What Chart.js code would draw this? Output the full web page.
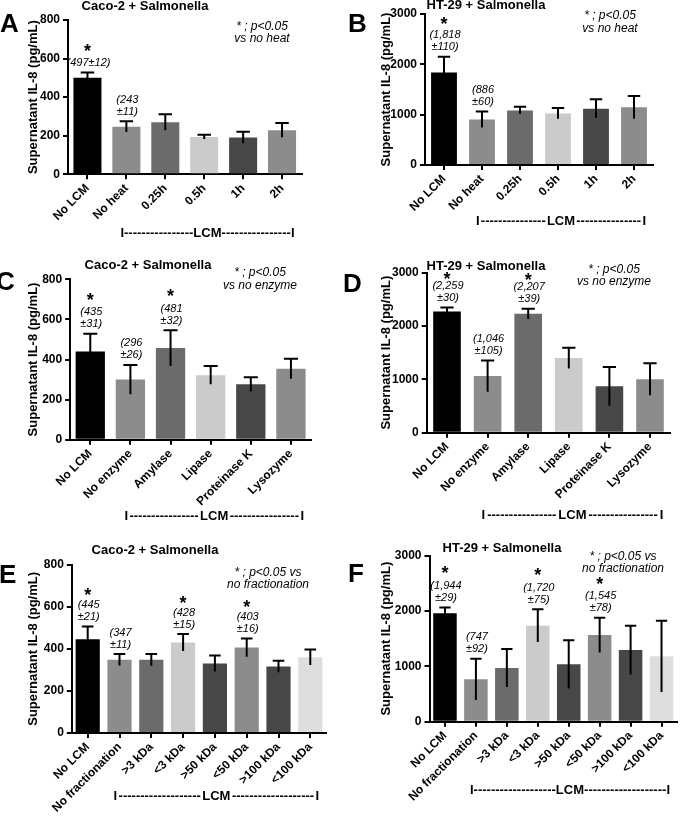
<!DOCTYPE html>
<html>
<head>
<meta charset="utf-8">
<script src="https://cdn.jsdelivr.net/npm/chart.js@4.4.1/dist/chart.umd.min.js"></script>
<style>
  body { margin: 0; background: #fff; }
  #figure { position: relative; width: 680px; height: 820px; overflow: hidden; }
  #figure canvas { position: absolute; }
</style>
</head>
<body>
<div id="figure">
  <canvas id="panelA" width="340" height="255" style="left:0;top:0"></canvas>
  <canvas id="panelB" width="340" height="255" style="left:340px;top:0"></canvas>
  <canvas id="panelC" width="340" height="285" style="left:0;top:255px"></canvas>
  <canvas id="panelD" width="340" height="285" style="left:340px;top:255px"></canvas>
  <canvas id="panelE" width="340" height="280" style="left:0;top:540px"></canvas>
  <canvas id="panelF" width="340" height="280" style="left:340px;top:540px"></canvas>
</div>
<script>
// categories
const heatCats = ["No LCM", "No heat", "0.25h", "0.5h", "1h", "2h"];
const enzymeCats = ["No LCM", "No enzyme", "Amylase", "Lipase", "Proteinase K", "Lysozyme"];
const fractionCats = ["No LCM", "No fractionation", ">3 kDa", "<3 kDa", ">50 kDa", "<50 kDa", ">100 kDa", "<100 kDa"];

// IL-8 means and error bars (pg/mL)
const caco2Heat = [500, 247, 270, 194, 191, 229];
const caco2HeatErr = [28, 28, 41, 11, 30, 37];
const ht29Heat = [1840, 905, 1085, 1025, 1118, 1146];
const ht29HeatErr = [312, 160, 73, 106, 186, 225];
const caco2Enzyme = [440, 300, 457, 322, 276, 354];
const caco2EnzymeErr = [88, 73, 89, 45, 35, 50];
const ht29Enzyme = [2272, 1063, 2228, 1400, 869, 1000];
const ht29EnzymeErr = [76, 293, 94, 194, 362, 300];
const caco2Fraction = [446, 348, 348, 430, 330, 406, 316, 360];
const caco2FractionErr = [60, 27, 28, 40, 38, 43, 27, 37];
const ht29Fraction = [1958, 765, 970, 1735, 1036, 1566, 1295, 1181];
const ht29FractionErr = [108, 374, 343, 295, 434, 314, 440, 644];

// value labels and significance stars above the bars
const caco2HeatNotes = ["(497\u00b112)", "(243\n\u00b111)", "", "", "", ""];
const caco2HeatStars = [1, 0, 0, 0, 0, 0];
const ht29HeatNotes = ["(1,818\n\u00b1110)", "(886\n\u00b160)", "", "", "", ""];
const ht29HeatStars = [1, 0, 0, 0, 0, 0];
const caco2EnzymeNotes = ["(435\n\u00b131)", "(296\n\u00b126)", "(481\n\u00b132)", "", "", ""];
const caco2EnzymeStars = [1, 0, 1, 0, 0, 0];
const ht29EnzymeNotes = ["(2,259\n\u00b130)", "(1,046\n\u00b1105)", "(2,207\n\u00b139)", "", "", ""];
const ht29EnzymeStars = [1, 0, 1, 0, 0, 0];
const caco2FractionNotes = ["(445\n\u00b121)", "(347\n\u00b111)", "", "(428\n\u00b115)", "", "(403\n\u00b116)", "", ""];
const caco2FractionStars = [1, 0, 0, 1, 0, 1, 0, 0];
const ht29FractionNotes = ["(1,944\n\u00b129)", "(747\n\u00b192)", "", "(1,720\n\u00b175)", "", "(1,545\n\u00b178)", "", ""];
const ht29FractionStars = [1, 0, 0, 1, 0, 1, 0, 0];

const FONT = '"Liberation Sans", Arial, Helvetica, sans-serif';
Chart.defaults.font.family = FONT;
Chart.defaults.color = "#000";

const greys6 = ["#000000", "#8c8c8c", "#6b6b6b", "#cbcbcb", "#474747", "#8c8c8c"];
const greys8 = ["#000000", "#8c8c8c", "#6b6b6b", "#cbcbcb", "#474747", "#8c8c8c", "#474747", "#dedede"];

// draws error bars, value notes, titles, panel letter and the LCM bracket
function decor(p) {
  return {
    id: "decor",
    afterDatasetsDraw(chart) {
      const ctx = chart.ctx;
      const y = chart.scales.y;
      const bars = chart.getDatasetMeta(0).data;
      ctx.save();
      ctx.strokeStyle = "#000";
      ctx.fillStyle = "#000";
      ctx.lineWidth = 2;
      bars.forEach((bar, i) => {
        const m = p.mean[i], e = p.err[i];
        const yTop = y.getPixelForValue(m + e);
        const yLow = y.getPixelForValue(m - e);
        const half = bar.width * 0.24;
        ctx.beginPath();
        ctx.moveTo(bar.x, yLow);
        ctx.lineTo(bar.x, yTop);
        ctx.moveTo(bar.x - half, yTop);
        ctx.lineTo(bar.x + half, yTop);
        ctx.stroke();

        const lines = p.notes[i] ? p.notes[i].split("\n") : [];
        ctx.font = "italic 11px " + FONT;
        ctx.textAlign = "center";
        ctx.textBaseline = "middle";
        let cy = yTop - 9.5;
        for (let k = lines.length - 1; k >= 0; k--) {
          ctx.fillText(lines[k], bar.x + 1, cy);
          cy -= 12;
        }
        if (p.stars[i]) {
          const top = lines.length ? cy + 12 : yTop;
          const sy = top - p.starGap;
          ctx.font = "bold 18px " + FONT;
          ctx.textBaseline = "alphabetic";
          ctx.fillText("*", bar.x, sy + 10);
        }
      });
      ctx.restore();
    },
    afterDraw(chart) {
      const ctx = chart.ctx;
      const area = chart.chartArea;
      ctx.save();
      ctx.fillStyle = "#000";

      ctx.font = "bold 13px " + FONT;
      ctx.textAlign = "center";
      ctx.textBaseline = "middle";
      ctx.fillText(p.title, p.titleX - p.ox, p.titleY - p.oy);

      ctx.font = "bold 26px " + FONT;
      ctx.textAlign = "left";
      ctx.textBaseline = "alphabetic";
      ctx.fillText(p.letter, p.letterX - p.ox, p.letterY - p.oy);

      ctx.font = "italic 12px " + FONT;
      ctx.textAlign = "center";
      ctx.textBaseline = "middle";
      ctx.fillText(p.sig[0], p.sigX - p.ox, p.sigY[0] - p.oy);
      ctx.fillText(p.sig[1], p.sigX - p.ox, p.sigY[1] - p.oy);

      // I-------LCM-------I
      const x1 = chart.scales.x.getPixelForValue(1) - 6;
      const x2 = area.right - 7;
      const yb = area.bottom + p.lcmDrop;
      ctx.font = "bold 13px " + FONT;
      const wI = ctx.measureText("I").width;
      const wL = ctx.measureText("LCM").width;
      const wD = ctx.measureText("-").width;
      const mid = (x1 + x2) / 2;
      ctx.textAlign = "left";
      ctx.fillText("I", x1, yb);
      ctx.textAlign = "right";
      ctx.fillText("I", x2, yb);
      ctx.textAlign = "center";
      ctx.fillText("LCM", mid, yb);
      const gap = mid - wL / 2 - (x1 + wI);
      const dashes = "-".repeat(Math.max(0, Math.floor(gap / wD)));
      ctx.fillText(dashes, (x1 + wI + mid - wL / 2) / 2, yb);
      ctx.fillText(dashes, (mid + wL / 2 + x2 - wI) / 2, yb);
      ctx.restore();
    }
  };
}

function makePanel(id, p) {
  const canvas = document.getElementById(id);
  const W = canvas.width, H = canvas.height;
  const tickGrid = {
    display: true,
    drawOnChartArea: false,
    drawTicks: true,
    tickLength: 5,
    color: "#000",
    lineWidth: 2,
    offset: false
  };
  return new Chart(canvas, {
    type: "bar",
    data: {
      labels: p.cats,
      datasets: [{
        data: p.mean,
        backgroundColor: p.colors,
        borderWidth: 0,
        barPercentage: p.barPct,
        categoryPercentage: 1
      }]
    },
    options: {
      responsive: false,
      animation: false,
      devicePixelRatio: 1,
      layout: {
        padding: { left: 0, top: p.T - p.oy, right: p.ox + W - p.R, bottom: 0 }
      },
      plugins: {
        legend: { display: false },
        tooltip: { enabled: false }
      },
      scales: {
        x: {
          offset: true,
          z: 1,
          grid: tickGrid,
          border: { color: "#000", width: 2 },
          ticks: {
            autoSkip: false,
            minRotation: 45,
            maxRotation: 45,
            padding: 2,
            color: "#000",
            font: { size: 12, weight: "bold" }
          },
          afterFit: (s) => { s.height = p.oy + H - p.B; }
        },
        y: {
          min: 0,
          max: p.max,
          z: 1,
          grid: tickGrid,
          border: { color: "#000", width: 2 },
          ticks: {
            stepSize: p.step,
            padding: 3,
            color: "#000",
            font: { size: 12, weight: "bold" },
            callback: (v) => String(v)
          },
          title: {
            display: true,
            text: "Supernatant IL-8 (pg/mL)",
            color: "#000",
            font: { size: 13, weight: "bold" },
            padding: { top: p.yTitleX - p.ox - 7.8, bottom: 0 }
          },
          afterFit: (s) => { s.width = p.L - p.ox; }
        }
      }
    },
    plugins: [decor(p)]
  });
}

makePanel("panelA", {
  cats: heatCats, mean: caco2Heat, err: caco2HeatErr, notes: caco2HeatNotes, stars: caco2HeatStars,
  colors: greys6, barPct: 0.72, max: 800, step: 200,
  ox: 0, oy: 0, L: 68, R: 301.5, T: 20, B: 174.3, yTitleX: 33,
  title: "Caco-2 + Salmonella", titleX: 145, titleY: 6,
  letter: "A", letterX: 0, letterY: 32,
  sig: ["* ; p<0.05", "vs no heat"], sigX: 262, sigY: [27, 39],
  lcmDrop: 58.7, starGap: 15.5
});

makePanel("panelB", {
  cats: heatCats, mean: ht29Heat, err: ht29HeatErr, notes: ht29HeatNotes, stars: ht29HeatStars,
  colors: greys6, barPct: 0.68, max: 3000, step: 1000,
  ox: 340, oy: 0, L: 425, R: 653, T: 14, B: 165, yTitleX: 386,
  title: "HT-29 + Salmonella", titleX: 486, titleY: 5,
  letter: "B", letterX: 348, letterY: 32,
  sig: ["* ; p<0.05", "vs no heat"], sigX: 610, sigY: [16, 28.3],
  lcmDrop: 56.7, starGap: 15.5
});

makePanel("panelC", {
  cats: enzymeCats, mean: caco2Enzyme, err: caco2EnzymeErr, notes: caco2EnzymeNotes, stars: caco2EnzymeStars,
  colors: greys6, barPct: 0.73, max: 800, step: 200,
  ox: 0, oy: 255, L: 70.2, R: 311, T: 279.3, B: 439.7, yTitleX: 33,
  title: "Caco-2 + Salmonella", titleX: 148, titleY: 265,
  letter: "C", letterX: -4, letterY: 290,
  sig: ["* ; p<0.05", "vs no enzyme"], sigX: 260, sigY: [272.7, 286],
  lcmDrop: 77, starGap: 16.5
});

makePanel("panelD", {
  cats: enzymeCats, mean: ht29Enzyme, err: ht29EnzymeErr, notes: ht29EnzymeNotes, stars: ht29EnzymeStars,
  colors: greys6, barPct: 0.68, max: 3000, step: 1000,
  ox: 340, oy: 255, L: 426.7, R: 670.3, T: 272.7, B: 432.7, yTitleX: 386.7,
  title: "HT-29 + Salmonella", titleX: 486, titleY: 266.7,
  letter: "D", letterX: 343, letterY: 292,
  sig: ["* ; p<0.05", "vs no enzyme"], sigX: 614, sigY: [269.5, 281.5],
  lcmDrop: 82.3, starGap: 11
});

makePanel("panelE", {
  cats: fractionCats, mean: caco2Fraction, err: caco2FractionErr, notes: caco2FractionNotes, stars: caco2FractionStars,
  colors: greys8, barPct: 0.76, max: 800, step: 200,
  ox: 0, oy: 540, L: 71.8, R: 326.2, T: 564.7, B: 733, yTitleX: 33,
  title: "Caco-2 + Salmonella", titleX: 155, titleY: 550,
  letter: "E", letterX: -1, letterY: 583,
  sig: ["* ; p<0.05 vs", "no fractionation"], sigX: 268, sigY: [573, 584.5],
  lcmDrop: 63.7, starGap: 14
});

makePanel("panelF", {
  cats: fractionCats, mean: ht29Fraction, err: ht29FractionErr, notes: ht29FractionNotes, stars: ht29FractionStars,
  colors: greys8, barPct: 0.76, max: 3000, step: 1000,
  ox: 340, oy: 540, L: 429.5, R: 677, T: 555.7, B: 721.7, yTitleX: 386.7,
  title: "HT-29 + Salmonella", titleX: 502, titleY: 548.3,
  letter: "F", letterX: 348, letterY: 582,
  sig: ["* ; p<0.05 vs", "no fractionation"], sigX: 623, sigY: [556.5, 569],
  lcmDrop: 68.3, starGap: 16.5
});
</script>
</body>
</html>
